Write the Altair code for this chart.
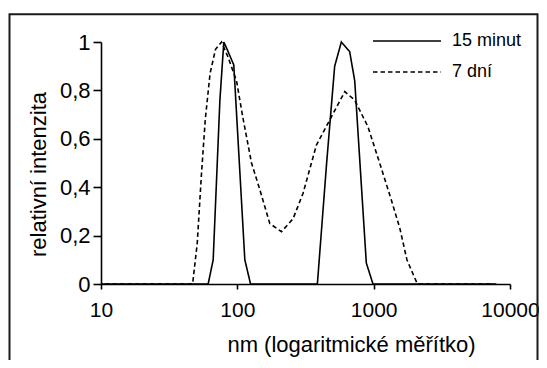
import altair as alt
import pandas as pd

# ---- data ----
series = ["15 minut", "7 dní"]

nm_15 = [10, 61.1, 66.5, 74.5, 79.6, 84.1, 94.2, 113.5, 125.0,
         386.4, 451.9, 517.6, 579.4, 666.8, 726.1, 883.1, 988.5, 7943]
int_15 = [0, 0, 0.1, 0.76, 1.0, 0.97, 0.905, 0.1, 0,
          0, 0.5, 0.9, 1.0, 0.96, 0.84, 0.087, 0, 0]

nm_7 = [10.7, 47.0, 50.8, 54.5, 58.2, 63.1, 69.2, 76.6, 85.1, 98.6,
        109.6, 127.1, 146.2, 173.0, 210.9, 256.4, 303.4, 380.2, 476.4,
        613.8, 726.1, 907.8, 1106.6, 1342.8, 1556, 1753.9, 1914.3, 2094, 7447]
int_7 = [0, 0, 0.168, 0.45, 0.68, 0.87, 0.97, 1.0, 0.94, 0.84,
         0.69, 0.5, 0.39, 0.25, 0.216, 0.27, 0.375, 0.574, 0.678,
         0.795, 0.76, 0.65, 0.5, 0.35, 0.23, 0.1, 0.05, 0, 0]

x_ticks = [10, 100, 1000, 10000]
y_ticks = [0, 0.2, 0.4, 0.6, 0.8, 1]

x_title = "nm (logaritmické měřítko)"
y_title = "relativní intenzita"

df = pd.concat([
    pd.DataFrame({"nm": nm_15, "val": int_15, "serie": series[0]}),
    pd.DataFrame({"nm": nm_7, "val": int_7, "serie": series[1]}),
], ignore_index=True)

FONT = "Liberation Sans"

lines = alt.Chart(df).mark_line(color="black", strokeWidth=1.6).encode(
    x=alt.X("nm:Q",
            scale=alt.Scale(type="log", domain=[10, 10000]),
            axis=alt.Axis(values=x_ticks, format="d", title=x_title,
                          titleX=250, titleY=60, titleBaseline="middle",
                          titleAlign="center", tickSize=5, labelPadding=10,
                          labelFlush=False, labelOverlap=False,
                          labelFontSize=21, titleFontSize=22)),
    y=alt.Y("val:Q",
            scale=alt.Scale(domain=[0, 1]),
            axis=alt.Axis(values=y_ticks, title=y_title,
                          labelExpr="replace(format(datum.value, '.1~f'), '.', ',')",
                          titleX=-63, titleY=132, titleBaseline="middle",
                          titleAlign="center", tickSize=8, labelPadding=3,
                          labelFlush=False, labelOverlap=False,
                          labelFontSize=22, titleFontSize=22)),
    strokeDash=alt.StrokeDash(
        "serie:N",
        scale=alt.Scale(domain=series, range=[[1, 0], [4.5, 3]]),
        legend=alt.Legend(title=None, orient="none", legendX=271, legendY=-11,
                          symbolType="stroke", symbolSize=4624,
                          symbolStrokeWidth=1.6, symbolStrokeColor="black",
                          clipHeight=20, rowPadding=11, labelOffset=10,
                          padding=0, labelFontSize=18, labelFont=FONT,
                          labelColor="black"),
    ),
)

frame = alt.Chart(pd.DataFrame({"k": [0]})).mark_rect(
    fillOpacity=0, stroke="#1a1a1a", strokeWidth=2
).encode(
    x=alt.value(-91.5), x2=alt.value(436.5),
    y=alt.value(-27.7), y2=alt.value(330),
)

chart = alt.layer(frame, lines).properties(
    width=409, height=242,
    autosize=alt.AutoSizeParams(type="none"),
    padding={"left": 93, "top": 34, "right": 29, "bottom": 76},
).configure_view(strokeWidth=0).configure_axis(
    grid=False, domainColor="black", domainWidth=1.6,
    tickColor="black", tickWidth=1.6, labelColor="black", titleColor="black",
    labelFont=FONT, titleFont=FONT, titleFontWeight="normal",
)

chart.save("out.html", embed_options={"renderer": "svg", "actions": False})
